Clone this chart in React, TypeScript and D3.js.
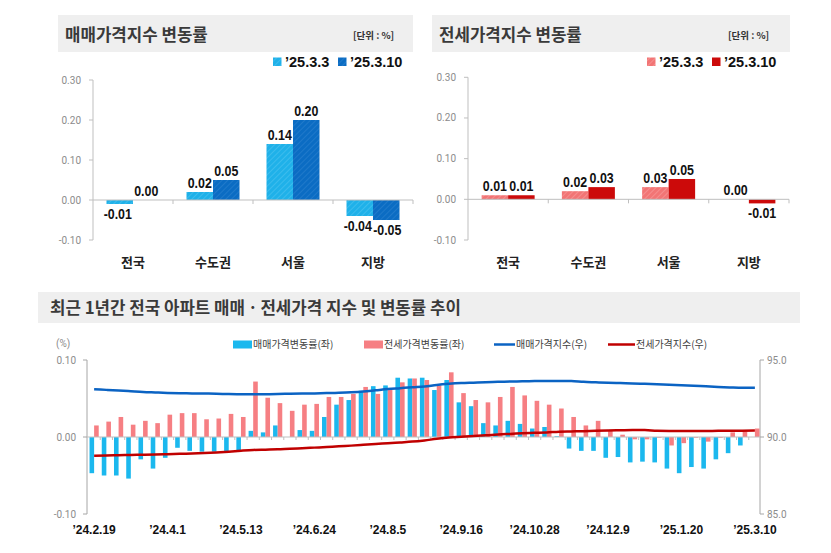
import React from 'react';
import * as d3 from 'd3';

// ---------- top charts data ----------
const regions = ['전국', '수도권', '서울', '지방'];
const saleWeekPrev = [-0.01, 0.02, 0.14, -0.04];
const saleWeekCurr = [0.0, 0.05, 0.2, -0.05];
const jeonseWeekPrev = [0.01, 0.02, 0.03, 0.0];
const jeonseWeekCurr = [0.01, 0.03, 0.05, -0.01];
const topTicks = [0.3, 0.2, 0.1, 0.0, -0.1];
const legendPrev = '’25.3.3';
const legendCurr = '’25.3.10';

// ---------- bottom chart data ----------
const weeks = [
  '’24.2.19', '’24.2.26', '’24.3.4', '’24.3.11', '’24.3.18', '’24.3.25', '’24.4.1', '’24.4.8', '’24.4.15', '’24.4.22',
  '’24.4.29', '’24.5.6', '’24.5.13', '’24.5.20', '’24.5.27', '’24.6.3', '’24.6.10', '’24.6.17', '’24.6.24', '’24.7.1',
  '’24.7.8', '’24.7.15', '’24.7.22', '’24.7.29', '’24.8.5', '’24.8.12', '’24.8.19', '’24.8.26', '’24.9.2', '’24.9.9',
  '’24.9.16', '’24.9.23', '’24.9.30', '’24.10.7', '’24.10.14', '’24.10.21', '’24.10.28', '’24.11.4', '’24.11.11', '’24.11.18',
  '’24.11.25', '’24.12.2', '’24.12.9', '’24.12.16', '’24.12.23', '’24.12.30', '’25.1.6', '’25.1.13', '’25.1.20', '’25.2.3',
  '’25.2.10', '’25.2.17', '’25.2.24', '’25.3.3', '’25.3.10',
];
const tickWeeks = ['’24.2.19', '’24.4.1', '’24.5.13', '’24.6.24', '’24.8.5', '’24.9.16', '’24.10.28', '’24.12.9', '’25.1.20', '’25.3.10'];
const saleChange = [
  -0.047, -0.05, -0.05, -0.054, -0.029, -0.041, -0.027, -0.014, -0.018, -0.019,
  -0.019, -0.019, -0.018, 0.008, 0.006, 0.015, 0.0, 0.009, 0.008, 0.026,
  0.042, 0.048, 0.06, 0.066, 0.067, 0.077, 0.076, 0.077, 0.061, 0.074,
  0.045, 0.04, 0.018, 0.015, 0.021, 0.017, 0.011, 0.013, 0.001, -0.015,
  -0.018, -0.018, -0.027, -0.026, -0.033, -0.032, -0.033, -0.041, -0.047, -0.039,
  -0.041, -0.029, -0.021, -0.011, 0.0,
];
const jeonseChange = [
  0.015, 0.02, 0.026, 0.016, 0.021, 0.018, 0.029, 0.031, 0.031, 0.023,
  0.024, 0.03, 0.026, 0.072, 0.051, 0.044, 0.034, 0.042, 0.043, 0.052,
  0.052, 0.056, 0.065, 0.056, 0.061, 0.071, 0.076, 0.074, 0.067, 0.084,
  0.057, 0.048, 0.045, 0.052, 0.065, 0.054, 0.047, 0.042, 0.037, 0.026,
  0.015, 0.021, 0.009, 0.003, -0.003, -0.003, -0.001, -0.011, -0.008, -0.001,
  -0.006, -0.001, 0.006, 0.007, 0.011,
];
const saleIndex = [
  93.1, 93.06, 93.02, 92.97, 92.92, 92.89, 92.86, 92.84, 92.83, 92.82,
  92.81, 92.79, 92.78, 92.77, 92.78, 92.79, 92.81, 92.82, 92.83, 92.85,
  92.87, 92.9, 92.95, 93.03, 93.11, 93.17, 93.23, 93.28, 93.38, 93.45,
  93.5, 93.53, 93.56, 93.58, 93.6, 93.62, 93.63, 93.64, 93.64, 93.63,
  93.58, 93.55, 93.52, 93.5, 93.48, 93.45, 93.42, 93.39, 93.36, 93.33,
  93.29, 93.25, 93.22, 93.2, 93.2,
];
const jeonseIndex = [
  88.79, 88.8, 88.82, 88.83, 88.85, 88.86, 88.88, 88.91, 88.93, 88.96,
  89.0, 89.05, 89.11, 89.16, 89.18, 89.2, 89.24, 89.27, 89.31, 89.35,
  89.4, 89.44, 89.49, 89.54, 89.6, 89.65, 89.7, 89.78, 89.88, 89.96,
  90.01, 90.06, 90.11, 90.16, 90.2, 90.24, 90.27, 90.3, 90.34, 90.36,
  90.38, 90.41, 90.43, 90.44, 90.45, 90.45, 90.4, 90.39, 90.39, 90.39,
  90.39, 90.4, 90.4, 90.41, 90.42,
];
const leftTicks = [0.1, 0.0, -0.1];
const rightTicks = [95, 90, 85];
const bottomLegend = ['매매가격변동률(좌)', '전세가격변동률(좌)', '매매가격지수(우)', '전세가격지수(우)'];

const KR = "'Noto Sans CJK KR', 'Noto Sans', sans-serif";
const SANS = "'Liberation Sans', Arial, sans-serif";
const TICKF = "Roboto, 'Noto Sans', sans-serif";

const fmt2 = (v: number) => (v < 0 ? '-' : '') + Math.abs(v).toFixed(2);

type TopProps = {
  title: string;
  boxX0: number;
  boxX1: number;
  axisX: number;
  axisEnd: number;
  yTop: number;
  yBottom: number;
  prev: number[];
  curr: number[];
  fillPrev: string;
  fillCurr: string;
  legendX: number;
  legendX2: number;
  unitX: number;
};

function TopChart(p: TopProps) {
  const x = d3.scaleBand<string>().domain(regions).range([p.axisX, p.axisEnd]);
  const y = d3.scaleLinear().domain([-0.1, 0.3]).range([p.yBottom, p.yTop]);
  const bw = 26.5;
  const y0 = y(0);
  const label = (v: number, cx: number, key: string) => {
    const top = v >= 0;
    const yy = top ? y(v) - 4 : y(v) + 15;
    return (
      <text
        key={key}
        transform={`translate(${cx},${yy}) scale(0.8,1)`}
        textAnchor="middle"
        fontFamily={SANS}
        fontWeight={700}
        fontSize={15.5}
        fill="#111"
      >
        {fmt2(v)}
      </text>
    );
  };
  return (
    <g>
      <rect x={p.boxX0} y={15} width={p.boxX1 - p.boxX0} height={37} fill="#efefef" />
      <text x={p.boxX0 + 7} y={41} fontFamily={KR} fontWeight={700} fontSize={16.8} fill="#3a3a3a">
        {p.title}
      </text>
      <text x={p.unitX} y={39} fontFamily={KR} fontWeight={700} fontSize={9.5} fill="#333">
        [단위 : %]
      </text>
      {/* legend */}
      <rect x={p.legendX} y={57.5} width={8.5} height={8.5} fill={p.fillPrev} />
      <text x={p.legendX + 12} y={67} fontFamily={SANS} fontWeight={700} fontSize={14.5} fill="#111">
        {legendPrev}
      </text>
      <rect x={p.legendX2} y={57.5} width={8.5} height={8.5} fill={p.fillCurr} />
      <text x={p.legendX2 + 12} y={67} fontFamily={SANS} fontWeight={700} fontSize={14.5} fill="#111">
        {legendCurr}
      </text>
      {/* y axis */}
      <line x1={p.axisX} x2={p.axisX} y1={y(0.3)} y2={y(-0.1)} stroke="#bfbfbf" />
      {topTicks.map((t) => (
        <g key={t}>
          <line x1={p.axisX - 4} x2={p.axisX} y1={y(t)} y2={y(t)} stroke="#bfbfbf" />
          <text
            x={p.axisX - 12}
            y={y(t) + 3.5}
            textAnchor="end"
            fontFamily={TICKF}
            fontSize={10}
            fill="#8c8c8c"
          >
            {fmt2(t)}
          </text>
        </g>
      ))}
      {/* bars */}
      {regions.map((r, i) => {
        const cx = (x(r) as number) + x.bandwidth() / 2;
        const a = p.prev[i];
        const b = p.curr[i];
        return (
          <g key={r}>
            <rect x={cx - bw} y={Math.min(y(a), y0)} width={bw} height={Math.abs(y(a) - y0)} fill={p.fillPrev} />
            <rect x={cx} y={Math.min(y(b), y0)} width={bw} height={Math.abs(y(b) - y0)} fill={p.fillCurr} />
          </g>
        );
      })}
      {/* x axis */}
      <line x1={p.axisX} x2={p.axisEnd} y1={y0} y2={y0} stroke="#bfbfbf" />
      {regions.slice(1).map((r) => (
        <line key={r} x1={x(r) as number} x2={x(r) as number} y1={y0} y2={y0 + 4} stroke="#bfbfbf" />
      ))}
      <line x1={p.axisEnd} x2={p.axisEnd} y1={y0} y2={y0 + 4} stroke="#bfbfbf" />
      {regions.map((r, i) => {
        const cx = (x(r) as number) + x.bandwidth() / 2;
        return (
          <g key={r + 'l'}>
            {label(p.prev[i], cx - bw / 2 - (p.prev[i] < 0 ? 2 : 0), 'a')}
            {label(p.curr[i], cx + bw / 2 + (p.prev[i] < 0 && p.curr[i] < 0 ? 1 : 0), 'b')}
            <text x={cx} y={267} textAnchor="middle" fontFamily={KR} fontWeight={700} fontSize={13} fill="#222">
              {r}
            </text>
          </g>
        );
      })}
    </g>
  );
}

function BottomChart() {
  const idx = d3.range(weeks.length);
  const x = d3.scaleBand<number>().domain(idx).range([88, 761]);
  const yL = d3.scaleLinear().domain([-0.1, 0.1]).range([514, 360]);
  const yR = d3.scaleLinear().domain([85, 95]).range([514, 360]);
  const bw = x.bandwidth();
  const barW = 4.6;
  const cx = (i: number) => (x(i) as number) + bw / 2;
  const y0 = yL(0);
  const line = d3
    .line<number>()
    .x((_, i) => cx(i))
    .y((v) => yR(v))
    .curve(d3.curveMonotoneX);
  return (
    <g>
      <rect x={38} y={292} width={762} height={31} fill="#efefef" />
      <text x={50} y={313.5} fontFamily={KR} fontWeight={700} fontSize={16.8} fill="#3a3a3a">
        최근 1년간 전국 아파트 매매ㆍ전세가격 지수 및 변동률 추이
      </text>
      {/* legend */}
      <text x={56} y={347} fontFamily={TICKF} fontSize={10} fill="#8c8c8c">
        (%)
      </text>
      <rect x={233} y={340.5} width={19} height={8} fill="#1bb8ee" />
      <text x={253} y={348} fontFamily={KR} fontSize={10} fill="#404040">
        {bottomLegend[0]}
      </text>
      <rect x={364} y={340.5} width={19} height={8} fill="#f67f83" />
      <text x={384} y={348} fontFamily={KR} fontSize={10} fill="#404040">
        {bottomLegend[1]}
      </text>
      <line x1={494} x2={515} y1={344.5} y2={344.5} stroke="#0b63c3" strokeWidth={2.5} />
      <text x={516} y={348} fontFamily={KR} fontSize={10} fill="#404040">
        {bottomLegend[2]}
      </text>
      <line x1={608} x2={635} y1={344.5} y2={344.5} stroke="#c00000" strokeWidth={2.5} />
      <text x={636} y={348} fontFamily={KR} fontSize={10} fill="#404040">
        {bottomLegend[3]}
      </text>
      {/* axes */}
      <line x1={87} x2={87} y1={360} y2={514} stroke="#a6a6a6" />
      {leftTicks.map((t) => (
        <g key={t}>
          <line x1={83} x2={87} y1={yL(t)} y2={yL(t)} stroke="#a6a6a6" />
          <text x={76} y={yL(t) + 3.5} textAnchor="end" fontFamily={TICKF} fontSize={10} fill="#8c8c8c">
            {fmt2(t)}
          </text>
        </g>
      ))}
      <line x1={760} x2={760} y1={360} y2={514} stroke="#a6a6a6" />
      {rightTicks.map((t) => (
        <g key={t}>
          <line x1={760} x2={764} y1={yR(t)} y2={yR(t)} stroke="#a6a6a6" />
          <text x={767} y={yR(t) + 3.5} fontFamily={TICKF} fontSize={10} fill="#8c8c8c">
            {t.toFixed(1)}
          </text>
        </g>
      ))}
      {/* bars */}
      {idx.map((i) => (
        <g key={i}>
          <rect
            x={cx(i) - barW}
            y={Math.min(yL(saleChange[i]), y0)}
            width={barW}
            height={Math.abs(yL(saleChange[i]) - y0)}
            fill="#1bb8ee"
          />
          <rect
            x={cx(i)}
            y={Math.min(yL(jeonseChange[i]), y0)}
            width={barW}
            height={Math.abs(yL(jeonseChange[i]) - y0)}
            fill="#f67f83"
          />
        </g>
      ))}
      <line x1={87} x2={760} y1={y0} y2={y0} stroke="#bfbfbf" />
      {idx.slice(1).map((i) => (
        <line key={i} x1={x(i) as number} x2={x(i) as number} y1={y0} y2={y0 + 3} stroke="#bfbfbf" />
      ))}
      <path d={line(saleIndex) || ''} fill="none" stroke="#0b63c3" strokeWidth={2.5} />
      <path d={line(jeonseIndex) || ''} fill="none" stroke="#c00000" strokeWidth={2.5} />
      {idx
        .filter((i) => tickWeeks.includes(weeks[i]))
        .map((i) => (
          <text key={i} x={cx(i)} y={534} textAnchor="middle" fontFamily={SANS} fontWeight={700} fontSize={12} fill="#111">
            {weeks[i]}
          </text>
        ))}
    </g>
  );
}

export default function App() {
  return (
    <svg
      width={831}
      height={553}
      viewBox="0 0 831 553"
      style={{ position: 'absolute', left: 0, top: 0, background: '#fff' }}
    >
      <defs>
        <pattern id="hLB" width="4" height="4" patternUnits="userSpaceOnUse" patternTransform="rotate(45)">
          <rect width="4" height="4" fill="#1fb1e9" />
          <line x1="0" y1="0" x2="0" y2="4" stroke="#4cc3f0" strokeWidth="1.3" />
        </pattern>
        <pattern id="hDB" width="4" height="4" patternUnits="userSpaceOnUse" patternTransform="rotate(45)">
          <rect width="4" height="4" fill="#0b6cc3" />
          <line x1="0" y1="0" x2="0" y2="4" stroke="#2a80cf" strokeWidth="1.3" />
        </pattern>
        <pattern id="hLR" width="4" height="4" patternUnits="userSpaceOnUse" patternTransform="rotate(45)">
          <rect width="4" height="4" fill="#f27575" />
          <line x1="0" y1="0" x2="0" y2="4" stroke="#f89c9c" strokeWidth="1.3" />
        </pattern>
      </defs>
      <rect width={831} height={553} fill="#fff" />
      <TopChart
        title="매매가격지수 변동률"
        boxX0={58}
        boxX1={413}
        axisX={93}
        axisEnd={413}
        yTop={80}
        yBottom={240}
        prev={saleWeekPrev}
        curr={saleWeekCurr}
        fillPrev="url(#hLB)"
        fillCurr="url(#hDB)"
        legendX={273}
        legendX2={338}
        unitX={353}
      />
      <TopChart
        title="전세가격지수 변동률"
        boxX0={432}
        boxX1={790}
        axisX={468}
        axisEnd={789}
        yTop={77.3}
        yBottom={240}
        prev={jeonseWeekPrev}
        curr={jeonseWeekCurr}
        fillPrev="url(#hLR)"
        fillCurr="#cc0a0a"
        legendX={647}
        legendX2={712}
        unitX={728}
      />
      <BottomChart />
    </svg>
  );
}
